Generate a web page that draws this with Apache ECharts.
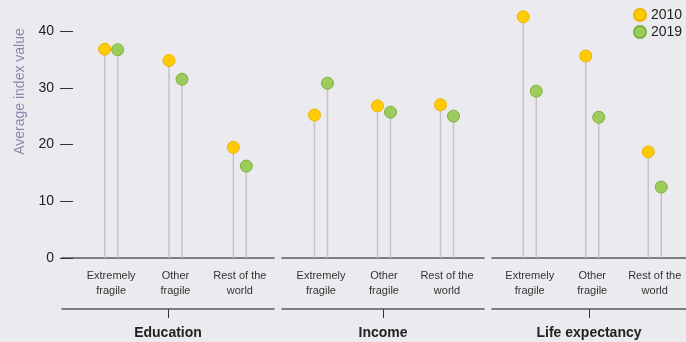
<!DOCTYPE html>
<html><head><meta charset="utf-8">
<script src="https://cdn.jsdelivr.net/npm/echarts@6/dist/echarts.min.js"></script>
<style>html,body{margin:0;padding:0;background:#EBEBEF;}#c{width:686px;height:342px;}</style>
</head><body><div id="c"></div>
<script>
var groups = ['Education', 'Income', 'Life expectancy'];
var categories = ['Extremely\nfragile', 'Other\nfragile', 'Rest of the\nworld'];
var years = ['2010', '2019'];
var values2010 = [
  [36.8, 34.8, 19.5],
  [25.2, 26.8, 27.0],
  [42.5, 35.6, 18.7]
];
var values2019 = [
  [36.7, 31.5, 16.2],
  [30.8, 25.7, 25.0],
  [29.4, 24.8, 12.5]
];
var yTicks = [0, 10, 20, 30, 40];

var font = 'Liberation Sans, Arial, sans-serif';
var dataGrids = [
  {left: 79, width: 193},
  {left: 289.5, width: 189},
  {left: 498.5, width: 190}
];
var bracketGrids = [
  {left: 62, width: 212},
  {left: 282, width: 202},
  {left: 492, width: 202}
];
var colors = {
  '2010': {fill: '#FFCB05', border: '#F0B400'},
  '2019': {fill: '#9DCB5C', border: '#7DB23C'}
};

var grid = [], xAxis = [], yAxis = [], series = [];
dataGrids.forEach(function (g, i) {
  grid.push({left: g.left, width: g.width, top: 31, height: 227});
});
bracketGrids.forEach(function (g, i) {
  grid.push({left: g.left, width: g.width, top: 258, height: 51});
});
// data x axes
for (var i = 0; i < 3; i++) {
  xAxis.push({
    type: 'category', gridIndex: i, data: categories,
    axisLine: {show: false}, axisTick: {show: false},
    axisLabel: {interval: 0, fontSize: 11, lineHeight: 15, color: '#333', margin: 10, fontFamily: font}
  });
  yAxis.push({
    type: 'value', gridIndex: i, min: 0, max: 40, interval: 10,
    show: i === 0, offset: 6,
    name: i === 0 ? 'Average index value' : '',
    nameLocation: 'middle', nameGap: 46,
    nameTextStyle: {color: '#8A87B0', fontSize: 14, fontFamily: font, padding: [0, 0, 0, 106]},
    axisLine: {show: false},
    axisTick: {show: true, length: 13, lineStyle: {color: '#333', width: 1}},
    splitLine: {show: false},
    axisLabel: {fontSize: 14, color: '#222', margin: 19, fontFamily: font,
      formatter: function (v) { return yTicks.indexOf(v) >= 0 ? String(v) : ''; }}
  });
}
// bracket axes
for (var j = 0; j < 3; j++) {
  xAxis.push({
    type: 'category', gridIndex: 3 + j, position: 'top', data: [''],
    axisLine: {show: true, onZero: false, lineStyle: {color: '#5A5A5A', width: 1.5}},
    axisTick: {show: false}, axisLabel: {show: false}
  });
  xAxis.push({
    type: 'category', gridIndex: 3 + j, position: 'bottom', data: [groups[j]],
    axisLine: {show: true, onZero: false, lineStyle: {color: '#5A5A5A', width: 1.5}},
    axisTick: {show: true, alignWithLabel: true, length: 9, lineStyle: {color: '#333', width: 1}},
    axisLabel: {fontSize: 14, fontWeight: 'bold', color: '#222', margin: 17, fontFamily: font}
  });
  yAxis.push({type: 'value', gridIndex: 3 + j, show: false, min: 0, max: 1});
}

for (var k = 0; k < 3; k++) {
  [values2010[k], values2019[k]].forEach(function (vals, yi) {
    series.push({
      type: 'bar', name: 'stem' + years[yi], xAxisIndex: k, yAxisIndex: k,
      data: vals, barWidth: 1.5, barGap: '767%', clip: false,
      itemStyle: {color: '#C4C4C8'}, silent: true, z: 1
    });
  });
  [values2010[k], values2019[k]].forEach(function (vals, yi) {
    var yr = years[yi];
    series.push({
      type: 'scatter', name: yr, xAxisIndex: k, yAxisIndex: k,
      data: vals, symbol: 'circle', symbolSize: 12, clip: false,
      symbolOffset: [yi === 0 ? -6.5 : 6.5, 0],
      itemStyle: {color: colors[yr].fill, borderColor: colors[yr].border, borderWidth: 1, opacity: 1},
      z: 3
    });
  });
}

var chart = echarts.init(document.getElementById('c'), null, {renderer: 'canvas'});
chart.setOption({
  backgroundColor: '#EBEBEF',
  animation: false,
  legend: {
    data: years, orient: 'vertical', left: 628, top: 3,
    itemWidth: 12, itemHeight: 12, itemGap: 3, icon: 'circle',
    textStyle: {fontSize: 14, color: '#222', fontFamily: font}
  },
  grid: grid, xAxis: xAxis, yAxis: yAxis, series: series
});
</script></body></html>
